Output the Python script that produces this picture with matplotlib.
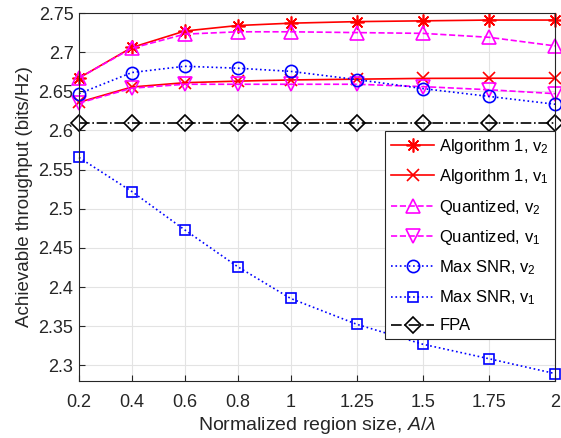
import numpy as np
import matplotlib
matplotlib.use("Agg")
import matplotlib.pyplot as plt

plt.rcParams['font.family'] = ['Liberation Sans', 'DejaVu Sans']
plt.rcParams['mathtext.fontset'] = 'custom'
plt.rcParams['mathtext.rm'] = 'Liberation Sans'
plt.rcParams['mathtext.it'] = 'Liberation Sans:italic'

# normalized region size A/lambda
region = [0.2, 0.4, 0.6, 0.8, 1.0, 1.25, 1.5, 1.75, 2.0]
region_labels = ['0.2', '0.4', '0.6', '0.8', '1', '1.25', '1.5', '1.75', '2']

# achievable throughput (bits/Hz)
alg1_v2 = [2.667, 2.706, 2.727, 2.734, 2.737, 2.739, 2.740, 2.741, 2.741]
alg1_v1 = [2.636, 2.6555, 2.661, 2.663, 2.6645, 2.6655, 2.6665, 2.6667, 2.6667]
quant_v2 = [2.667, 2.705, 2.723, 2.726, 2.726, 2.725, 2.724, 2.719, 2.708]
quant_v1 = [2.635, 2.654, 2.659, 2.659, 2.659, 2.659, 2.656, 2.652, 2.647]
maxsnr_v2 = [2.647, 2.674, 2.682, 2.6795, 2.6755, 2.665, 2.6535, 2.6435, 2.6335]
maxsnr_v1 = [2.5655, 2.522, 2.473, 2.426, 2.3855, 2.3525, 2.327, 2.3085, 2.2895]
fpa = [2.61] * 9

yticks = [2.3, 2.35, 2.4, 2.45, 2.5, 2.55, 2.6, 2.65, 2.7, 2.75]

fig = plt.figure(figsize=(5.61, 4.38), dpi=100)
ax = fig.add_axes([0.1408, 0.1301, 0.8485, 0.8402])

red = '#FF0000'
mag = '#FF00FF'
blue = '#0000FF'

# (values, colour, linestyle, marker, markersize, label)
series = [
    (alg1_v2, red, '-', (8, 2, 0), 10, 'Algorithm 1, v$_2$'),
    (alg1_v1, red, '-', 'x', 8, 'Algorithm 1, v$_1$'),
    (quant_v2, mag, '--', '^', 9.5, 'Quantized, v$_2$'),
    (quant_v1, mag, '--', 'v', 9.5, 'Quantized, v$_1$'),
    (maxsnr_v2, blue, ':', 'o', 8.8, 'Max SNR, v$_2$'),
    (maxsnr_v1, blue, ':', 's', 7.5, 'Max SNR, v$_1$'),
    (fpa, 'black', '-.', 'D', 8, 'FPA'),
]
for vals, c, ls, mk, ms, lab in series:
    ax.plot(region, vals, color=c, linestyle=ls, marker=mk, markersize=ms,
            markerfacecolor='none', markeredgecolor=c, markeredgewidth=1.2,
            linewidth=1.2, label=lab, clip_on=False)

ax.set_xlim(0.2, 2.0)
ax.set_ylim(2.28, 2.75)
ax.set_xticks(region)
ax.set_xticklabels(region_labels)
ax.set_yticks(yticks)
ax.set_yticklabels([f'{t:g}' for t in yticks])
ax.tick_params(direction='in', labelsize=13, colors='#262626', length=4)
ax.tick_params(axis='x', pad=9)
ax.tick_params(axis='y', pad=4)
ax.grid(True, color='#E3E3E3', linewidth=0.8)
ax.set_axisbelow(True)
for s in ax.spines.values():
    s.set_color('#262626')
    s.set_linewidth(0.8)

ax.set_xlabel('Normalized region size, $A/\\lambda$', fontsize=14, color='#262626', labelpad=3)
ax.set_ylabel('Achievable throughput (bits/Hz)', fontsize=13.5, color='#262626', labelpad=4)

leg = ax.legend(loc='upper right', bbox_to_anchor=(1.0, 0.679), borderaxespad=0,
                fancybox=False, framealpha=1, edgecolor='#262626', fontsize=12,
                handlelength=2.6, labelspacing=0.68, borderpad=0.35, handletextpad=0.3)
leg.get_frame().set_linewidth(0.8)

fig.savefig('out.png', dpi=100)
